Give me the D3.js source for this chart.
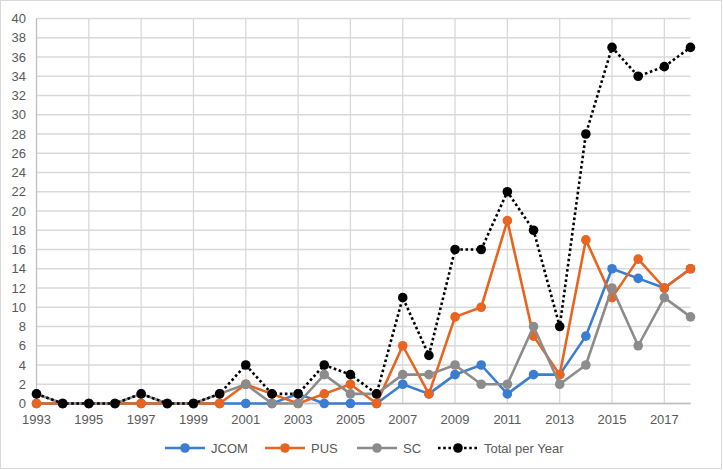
<!DOCTYPE html>
<html>
<head>
<meta charset="utf-8">
<script src="https://cdn.jsdelivr.net/npm/d3@7"></script>
<style>
  body { margin: 0; background: #fff; }
  text { font-family: "Liberation Sans", Arial, sans-serif; fill: #595959; }
</style>
</head>
<body>
<div id="canvas"><svg width="723" height="470"></svg></div>
<script>
// chart data
var years = d3.range(1993, 2019);
var jcom  = [0,0,0,0,0,0,0,0,0,0,1,0,0,0,2,1,3,4,1,3,3,7,14,13,12,14];
var pus   = [0,0,0,0,0,0,0,0,2,1,0,1,2,0,6,1,9,10,19,7,3,17,11,15,12,14];
var sc    = [1,0,0,0,1,0,0,1,2,0,0,3,1,1,3,3,4,2,2,8,2,4,12,6,11,9];
var total = [1,0,0,0,1,0,0,1,4,1,1,4,3,1,11,5,16,16,22,18,8,28,37,34,35,37];
var yTicks = d3.range(0, 41, 2);
var xTickYears = d3.range(1993, 2019, 2);

var series = [
  {name: "JCOM", values: jcom, color: "#3b7dd0", dash: null},
  {name: "PUS", values: pus, color: "#e8641f", dash: null},
  {name: "SC", values: sc, color: "#8c8c8c", dash: null},
  {name: "Total per Year", values: total, color: "#000", dash: "2.6,2.6"}
];

var svg = d3.select("#canvas svg"),
    width = 723,
    height = 470;

// outer border
svg.append("rect")
  .attr("x", 0.5).attr("y", 0.5)
  .attr("width", width - 2).attr("height", height - 2)
  .attr("fill", "#fff").attr("stroke", "#d9d9d9");

var x = d3.scaleLinear().domain([1993, 2018]).range([36.5, 690.5]);
var y = d3.scaleLinear().domain([0, 40]).range([403.5, 18.5]);

// grid
var grid = svg.append("g");
grid.selectAll(".hgrid").data(yTicks).enter().append("line")
  .attr("x1", x(1993)).attr("x2", x(2018))
  .attr("y1", function (d) {return y(d);})
  .attr("y2", function (d) {return y(d);})
  .attr("stroke", "#d9d9d9").attr("stroke-width", 1.3);
grid.selectAll(".vgrid").data(xTickYears.slice(1)).enter().append("line")
  .attr("x1", function (d) {return x(d);})
  .attr("x2", function (d) {return x(d);})
  .attr("y1", y(0)).attr("y2", y(40))
  .attr("stroke", "#d9d9d9").attr("stroke-width", 1.3);

// axis lines
svg.append("line").attr("x1", x(1993)).attr("x2", x(1993))
  .attr("y1", y(0)).attr("y2", y(40)).attr("stroke", "#bfbfbf").attr("stroke-width", 1.3);
svg.append("line").attr("x1", x(1993)).attr("x2", x(2018))
  .attr("y1", y(0)).attr("y2", y(0)).attr("stroke", "#bfbfbf").attr("stroke-width", 1.3);

// y labels
svg.append("g").selectAll("text").data(yTicks).enter().append("text")
  .attr("x", 26).attr("y", function (d) {return y(d);})
  .attr("dy", "0.35em").attr("text-anchor", "end")
  .attr("font-size", "13px")
  .text(function (d) {return d;});

// x labels
svg.append("g").selectAll("text").data(xTickYears).enter().append("text")
  .attr("x", function (d) {return x(d);}).attr("y", 419.5)
  .attr("dy", "0.35em").attr("text-anchor", "middle")
  .attr("font-size", "13px")
  .text(function (d) {return d;});

var line = d3.line()
  .x(function (d, i) {return x(years[i]);})
  .y(function (d) {return y(d);});

series.forEach(function (s) {
  var g = svg.append("g");
  g.append("path")
    .attr("d", line(s.values))
    .attr("fill", "none")
    .attr("stroke", s.color)
    .attr("stroke-width", s.dash ? 2.6 : 2.6)
    .attr("stroke-dasharray", s.dash)
    .attr("stroke-linejoin", "round");
  g.selectAll("circle").data(s.values).enter().append("circle")
    .attr("cx", function (d, i) {return x(years[i]);})
    .attr("cy", function (d) {return y(d);})
    .attr("r", 4.8)
    .attr("fill", s.color);
});

// legend
var legendPos = [165, 265, 357, 438];
var legend = svg.append("g");
series.forEach(function (s, i) {
  var lx = legendPos[i], ly = 448;
  legend.append("line")
    .attr("x1", lx).attr("x2", lx + 40)
    .attr("y1", ly).attr("y2", ly)
    .attr("stroke", s.color).attr("stroke-width", 2.6)
    .attr("stroke-dasharray", s.dash);
  legend.append("circle").attr("cx", lx + 20).attr("cy", ly).attr("r", 4.8).attr("fill", s.color);
  legend.append("text")
    .attr("x", lx + 46).attr("y", ly).attr("dy", "0.35em")
    .attr("font-size", "13px")
    .text(s.name);
});
</script>
</body>
</html>
